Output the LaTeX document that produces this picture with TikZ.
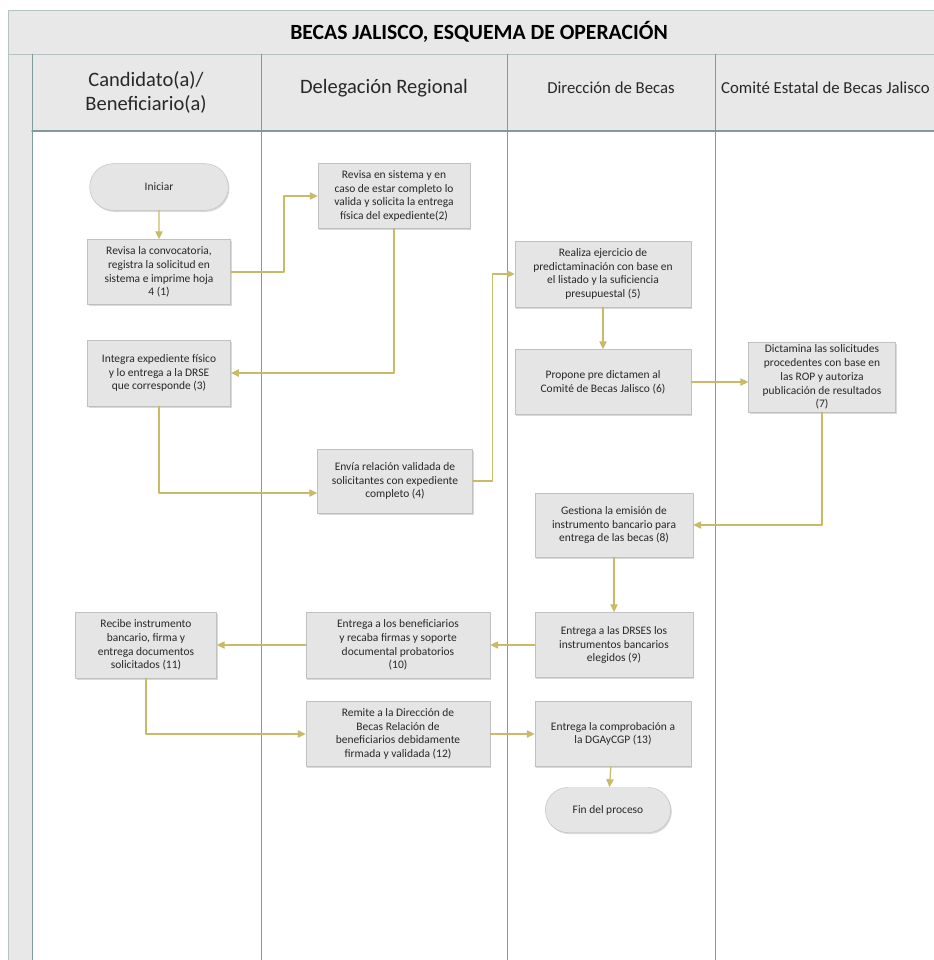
\documentclass[tikz,border=0pt]{standalone}
\usepackage{fontspec}
\setmainfont{Carlito}
\usepackage{tikz}
\usetikzlibrary{arrows.meta,shapes.misc,shadows}
\definecolor{fondogris}{RGB}{232,232,232}
\definecolor{lineacarril}{RGB}{128,156,154}
\definecolor{relleno}{RGB}{229,229,229}
\definecolor{borde}{RGB}{192,192,192}
\definecolor{flujo}{RGB}{201,186,104}
\definecolor{texto}{RGB}{40,40,40}

\begin{document}
\begin{tikzpicture}[line cap=round,line join=round,x=0.3mm,y=-0.3mm,
	paso/.style={draw=borde,fill=relleno,text=texto,align=center,inner sep=2pt,
		font=\fontsize{9.8}{11.8}\selectfont,
		drop shadow={shadow xshift=1pt,shadow yshift=-1.3pt,opacity=0.3}},
	terminal/.style={paso,rounded rectangle},
	carril/.style={text=texto,align=center},
	flecha/.style={draw=flujo,line width=1.1pt,-{Triangle[length=2.4mm,width=2.2mm,fill=flujo]}}]
	\useasboundingbox (0,0) rectangle (933,960);
	% marco y carriles
	\fill[fondogris] (8,10) rectangle (945,131);
	\fill[fondogris] (8,131) rectangle (32,965);
	\draw[lineacarril!60] (8,965) -- (8,10) -- (945,10);
	\draw[lineacarril!60] (8,54) -- (945,54);
	\draw[lineacarril,line width=1.2pt] (32,131) -- (945,131);
	\foreach \x in {32,261,507,715}
		\draw[lineacarril] (\x,54) -- (\x,965);

	\node[font=\bfseries\fontsize{18.5}{22}\selectfont,text=black] (titulo) at (479,32) {BECAS JALISCO, ESQUEMA DE OPERACIÓN};
	\node[carril,font=\fontsize{17.5}{20.5}\selectfont] (carril1) at (146,92) {Candidato(a)/\\Beneficiario(a)};
	\node[carril,font=\fontsize{17.5}{20.5}\selectfont] (carril2) at (384,88) {Delegación Regional};
	\node[carril,font=\fontsize{14.3}{17}\selectfont] (carril3) at (611,88) {Dirección de Becas};
	\node[carril,font=\fontsize{14.3}{17}\selectfont,anchor=west] (carril4) at (717,88) {Comité Estatal de Becas Jalisco};

	% candidato
	\node[terminal,minimum width=43mm,minimum height=14mm] (inicio) at (159,187) {Iniciar};
	\node[paso,minimum width=43mm,minimum height=19.5mm] (p1) at (159,272) {Revisa la convocatoria,\\registra la solicitud en\\sistema e imprime hoja\\4 (1)};
	\node[paso,minimum width=43mm,minimum height=19.8mm] (p3) at (159,373) {Integra expediente físico\\y lo entrega a la DRSE\\que corresponde (3)};
	\node[paso,minimum width=42.3mm,minimum height=19.8mm] (p11) at (146,645) {Recibe instrumento\\bancario, firma y\\entrega documentos\\solicitados (11)};
	% delegacion
	\node[paso,minimum width=45.6mm,minimum height=19.5mm] (p2) at (394,196) {Revisa en sistema y en\\caso de estar completo lo\\valida y solicita la entrega\\física del expediente(2)};
	\node[paso,minimum width=46.5mm,minimum height=19.2mm] (p4) at (395,481) {Envía relación validada de\\solicitantes con expediente\\completo (4)};
	\node[paso,minimum width=55.2mm,minimum height=19.8mm] (p10) at (398,645) {Entrega a los beneficiarios\\y recaba firmas y soporte\\documental probatorios\\(10)};
	\node[paso,minimum width=55.2mm,minimum height=19.5mm] (p12) at (398,734) {Remite a la Dirección de\\Becas Relación de\\beneficiarios debidamente\\firmada y validada (12)};
	% direccion
	\node[paso,minimum width=52.8mm,minimum height=19.8mm] (p5) at (603,274) {Realiza ejercicio de\\predictaminación con base en\\el listado y la suficiencia\\presupuestal (5)};
	\node[paso,minimum width=52.8mm,minimum height=19.5mm] (p6) at (603,382) {Propone pre dictamen al\\Comité de Becas Jalisco (6)};
	\node[paso,minimum width=47.4mm,minimum height=19.2mm] (p8) at (614,525) {Gestiona la emisión de\\instrumento bancario para\\entrega de las becas (8)};
	\node[paso,minimum width=47.4mm,minimum height=19.5mm] (p9) at (614,645) {Entrega a las DRSES los\\instrumentos bancarios\\elegidos (9)};
	\node[paso,minimum width=46.8mm,minimum height=19.5mm] (p13) at (613,734) {Entrega la comprobación a\\la DGAyCGP (13)};
	\node[terminal,minimum width=39mm,minimum height=13.5mm] (fin) at (608,810) {Fin del proceso};
	% comite
	\node[paso,minimum width=44mm,minimum height=21mm] (p7) at (822,377) {Dictamina las solicitudes\\procedentes con base en\\las ROP y autoriza\\publicación de resultados\\(7)};

	% flujos
	\draw[flecha] (inicio) -- (p1);
	\draw[flecha] (p1.east) -- ++(53,0) |- (p2.west);
	\draw[flecha] (p2.south) |- (p3.east);
	\draw[flecha] (p3.south) |- ([yshift=-3.6mm]p4.west);
	\draw[flecha] (p4.east) -- ++(20,0) |- (p5.west);
	\draw[flecha] (p5) -- (p6);
	\draw[flecha] (p6.east) -- (p6.east -| p7.west);
	\draw[flecha] (p7.south) |- (p8.east);
	\draw[flecha] (p8) -- (p9);
	\draw[flecha] (p9.west) -- (p10.east);
	\draw[flecha] (p10.west) -- (p11.east);
	\draw[flecha] (p11.south) |- (p12.west);
	\draw[flecha] (p12.east) -- (p13.west);
	\draw[flecha] (p13) -- (fin);
\end{tikzpicture}
\end{document}
